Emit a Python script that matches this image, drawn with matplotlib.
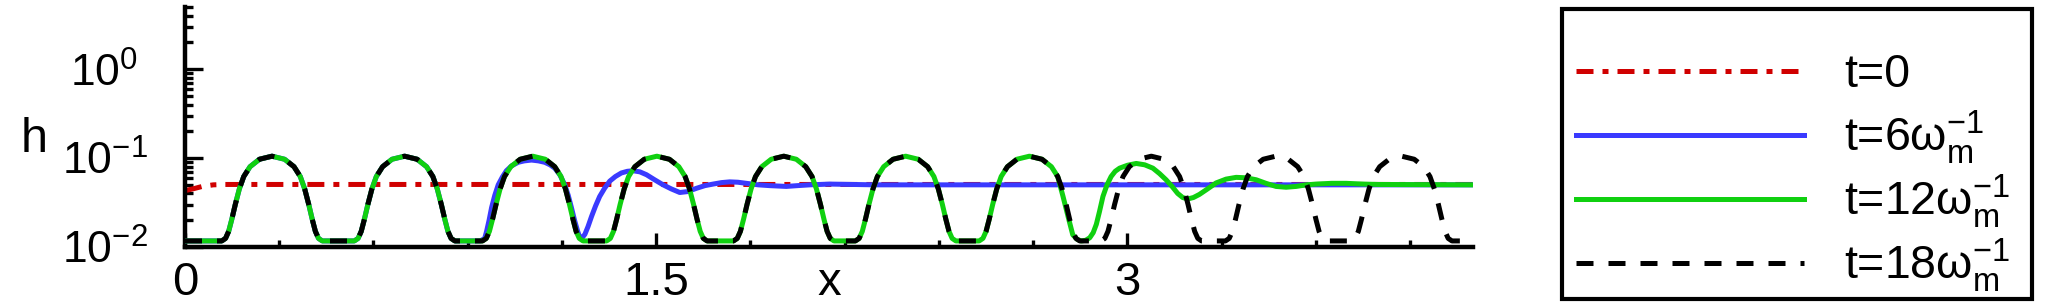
import matplotlib
matplotlib.use("Agg")
import matplotlib.pyplot as plt
from matplotlib.ticker import MultipleLocator, LogLocator, NullFormatter
from matplotlib.patches import Rectangle

plt.rcParams['font.family'] = ['Liberation Sans', 'DejaVu Sans']
plt.rcParams['mathtext.fontset'] = 'custom'
plt.rcParams['mathtext.rm'] = 'Liberation Sans'
plt.rcParams['mathtext.it'] = 'Liberation Sans:italic'
plt.rcParams['mathtext.bf'] = 'Liberation Sans:bold'

# ---- data ----
# t=0 : smooth initial profile
red_x = [0.0, 0.03, 0.055, 0.09, 0.127, 0.16, 0.22, 4.1]
red_h = [0.043, 0.0455, 0.048, 0.050, 0.0505, 0.0505, 0.0505, 0.0505]

# t=18 : periodic bumps over the whole domain
black_x = [0.0,
           0.117, 0.129, 0.139, 0.149, 0.160, 0.173, 0.187, 0.207, 0.237, 0.277, 0.317, 0.347, 0.367, 0.381, 0.394, 0.405, 0.415, 0.425, 0.437,
           0.539, 0.551, 0.561, 0.571, 0.582, 0.595, 0.609, 0.629, 0.659, 0.699, 0.739, 0.769, 0.789, 0.803, 0.816, 0.827, 0.837, 0.847, 0.859,
           0.947, 0.959, 0.969, 0.979, 0.990, 1.003, 1.017, 1.037, 1.067, 1.107, 1.147, 1.177, 1.197, 1.211, 1.224, 1.235, 1.245, 1.255, 1.267,
           1.342, 1.354, 1.364, 1.374, 1.385, 1.398, 1.412, 1.432, 1.462, 1.502, 1.542, 1.572, 1.592, 1.606, 1.619, 1.630, 1.640, 1.650, 1.662,
           1.746, 1.758, 1.768, 1.778, 1.789, 1.802, 1.816, 1.836, 1.866, 1.906, 1.946, 1.976, 1.996, 2.010, 2.023, 2.034, 2.044, 2.054, 2.066,
           2.134, 2.146, 2.156, 2.166, 2.177, 2.190, 2.204, 2.224, 2.254, 2.294, 2.334, 2.364, 2.384, 2.398, 2.411, 2.422, 2.432, 2.442, 2.454,
           2.528, 2.540, 2.550, 2.560, 2.571, 2.584, 2.598, 2.618, 2.648, 2.688, 2.728, 2.758, 2.778, 2.792, 2.805, 2.816, 2.826, 2.836, 2.848,
           2.916, 2.928, 2.938, 2.948, 2.959, 2.972, 2.986, 3.006, 3.036, 3.076, 3.116, 3.146, 3.166, 3.180, 3.193, 3.204, 3.214, 3.224, 3.236,
           3.312, 3.324, 3.334, 3.344, 3.355, 3.368, 3.382, 3.402, 3.432, 3.472, 3.512, 3.542, 3.562, 3.576, 3.589, 3.600, 3.610, 3.620, 3.632,
           3.713, 3.725, 3.735, 3.745, 3.756, 3.769, 3.783, 3.803, 3.833, 3.873, 3.913, 3.943, 3.963, 3.977, 3.990, 4.001, 4.011, 4.021, 4.033,
           4.1]
black_h = [0.0117,
           0.0117, 0.0125, 0.015, 0.0205, 0.03, 0.045, 0.062, 0.08, 0.097, 0.105, 0.097, 0.08, 0.062, 0.045, 0.03, 0.0205, 0.015, 0.0125, 0.0117,
           0.0117, 0.0125, 0.015, 0.0205, 0.03, 0.045, 0.062, 0.08, 0.097, 0.105, 0.097, 0.08, 0.062, 0.045, 0.03, 0.0205, 0.015, 0.0125, 0.0117,
           0.0117, 0.0125, 0.015, 0.0205, 0.03, 0.045, 0.062, 0.08, 0.097, 0.105, 0.097, 0.08, 0.062, 0.045, 0.03, 0.0205, 0.015, 0.0125, 0.0117,
           0.0117, 0.0125, 0.015, 0.0205, 0.03, 0.045, 0.062, 0.08, 0.097, 0.105, 0.097, 0.08, 0.062, 0.045, 0.03, 0.0205, 0.015, 0.0125, 0.0117,
           0.0117, 0.0125, 0.015, 0.0205, 0.03, 0.045, 0.062, 0.08, 0.097, 0.105, 0.097, 0.08, 0.062, 0.045, 0.03, 0.0205, 0.015, 0.0125, 0.0117,
           0.0117, 0.0125, 0.015, 0.0205, 0.03, 0.045, 0.062, 0.08, 0.097, 0.105, 0.097, 0.08, 0.062, 0.045, 0.03, 0.0205, 0.015, 0.0125, 0.0117,
           0.0117, 0.0125, 0.015, 0.0205, 0.03, 0.045, 0.062, 0.08, 0.097, 0.105, 0.097, 0.08, 0.062, 0.045, 0.03, 0.0205, 0.015, 0.0125, 0.0117,
           0.0117, 0.0125, 0.015, 0.0205, 0.03, 0.045, 0.062, 0.08, 0.097, 0.105, 0.097, 0.08, 0.062, 0.045, 0.03, 0.0205, 0.015, 0.0125, 0.0117,
           0.0117, 0.0125, 0.015, 0.0205, 0.03, 0.045, 0.062, 0.08, 0.097, 0.105, 0.097, 0.08, 0.062, 0.045, 0.03, 0.0205, 0.015, 0.0125, 0.0117,
           0.0117, 0.0125, 0.015, 0.0205, 0.03, 0.045, 0.062, 0.08, 0.097, 0.105, 0.097, 0.08, 0.062, 0.045, 0.03, 0.0205, 0.015, 0.0125, 0.0117,
           0.0117]

# t=6 : same as t=18 up to x~0.86, then its own tail
blue_shared = 39
blue_tail_x = [0.940, 0.954, 0.960, 0.968, 0.976, 0.986, 0.997, 1.010, 1.023, 1.040, 1.061, 1.080, 1.103, 1.125, 1.145, 1.162, 1.177,
               1.193, 1.209, 1.220, 1.230, 1.240, 1.250, 1.257, 1.265, 1.273, 1.283, 1.294, 1.307, 1.320, 1.336, 1.352, 1.370, 1.389,
               1.408, 1.427, 1.448, 1.469, 1.495, 1.522, 1.548, 1.575, 1.600, 1.628, 1.655, 1.681, 1.708, 1.734, 1.760, 1.787, 1.825,
               1.861, 1.914, 1.950, 1.989, 2.052, 2.20, 4.1]
blue_tail_h = [0.0117, 0.0125, 0.015, 0.020, 0.0278, 0.038, 0.050, 0.061, 0.072, 0.082, 0.0897, 0.093, 0.095, 0.093, 0.0897, 0.084, 0.077,
               0.065, 0.050, 0.038, 0.0278, 0.020, 0.015, 0.0127, 0.0128, 0.0139, 0.017, 0.022, 0.029, 0.037, 0.046, 0.055, 0.062, 0.068,
               0.071, 0.072, 0.070, 0.065, 0.057, 0.050, 0.045, 0.041, 0.042, 0.0457, 0.049, 0.051, 0.053, 0.054, 0.0535, 0.052, 0.050,
               0.049, 0.048, 0.049, 0.050, 0.051, 0.050, 0.050]

# t=12 : same as t=18 up to x~2.78, then its own tail
green_shared = 128
green_tail_x = [2.795, 2.811, 2.826, 2.840, 2.853, 2.867, 2.880, 2.891, 2.901, 2.911, 2.922, 2.935, 2.948, 2.961, 2.975, 3.000, 3.028,
                3.055, 3.081, 3.102, 3.123, 3.142, 3.160, 3.176, 3.192, 3.210, 3.229, 3.255, 3.282, 3.314, 3.346, 3.378, 3.410,
                3.441, 3.473, 3.505, 3.537, 3.570, 3.60, 3.65, 3.696, 3.75, 3.80, 4.1]
green_tail_h = [0.037, 0.022, 0.0137, 0.0122, 0.0117, 0.0119, 0.0127, 0.0145, 0.018, 0.025, 0.037, 0.050, 0.062, 0.071, 0.077, 0.083, 0.087,
                0.084, 0.077, 0.067, 0.057, 0.048, 0.040, 0.036, 0.0347, 0.036, 0.039, 0.045, 0.0525, 0.058, 0.0607, 0.060, 0.057,
                0.052, 0.048, 0.047, 0.048, 0.050, 0.051, 0.052, 0.052, 0.051, 0.0505, 0.050]

labels = ['t=0', r't=6$\mathrm{\omega}_{\mathrm{m}}^{-1}$', r't=12$\mathrm{\omega}_{\mathrm{m}}^{-1}$',
          r't=18$\mathrm{\omega}_{\mathrm{m}}^{-1}$']

blue_x = black_x[:blue_shared] + blue_tail_x
blue_h = black_h[:blue_shared] + blue_tail_h
green_x = black_x[:green_shared] + green_tail_x
green_h = black_h[:green_shared] + green_tail_h

# ---- figure ----
W, H = 2048, 302
fig = plt.figure(figsize=(W / 100, H / 100), dpi=100)
ax = fig.add_axes([185 / W, 1 - 247 / H, 1288 / W, 240 / H])

lw = 3.6
l0, = ax.plot(red_x, red_h, color='#d00000', lw=lw, linestyle=(0, (3.4, 1.8, 1.2, 1.8)), zorder=2)
l1, = ax.plot(blue_x, blue_h, color='#3a3aff', lw=lw, zorder=3)
l2, = ax.plot(green_x, green_h, color='#10d010', lw=lw, zorder=4)
l3, = ax.plot(black_x, black_h, color='black', lw=lw, linestyle=(0, (3.4, 3.0)), zorder=5)

ax.set_yscale('log')
ax.set_xlim(0, 4.1)
ax.set_ylim(0.01, 5)

ax.spines['top'].set_visible(False)
ax.spines['right'].set_visible(False)
ax.spines['left'].set_linewidth(3.2)
ax.spines['bottom'].set_linewidth(3.2)

ax.set_xticks([0, 1.5, 3])
ax.set_xticklabels(['0', '1.5', '3'])
ax.xaxis.set_minor_locator(MultipleLocator(0.3))
ax.set_yticks([0.01, 0.1, 1])
ax.set_yticklabels([r'$10^{-2}$', r'$10^{-1}$', r'$10^{0}$'])
ax.yaxis.set_minor_locator(LogLocator(base=10, subs=range(2, 10)))
ax.yaxis.set_minor_formatter(NullFormatter())

ax.tick_params(which='both', direction='in', width=2.4, color='black')
ax.tick_params(axis='x', which='major', length=10, pad=10, labelsize=34)
ax.tick_params(axis='x', which='minor', length=5)
ax.tick_params(axis='y', which='major', length=13, pad=58, labelsize=32)
ax.tick_params(axis='y', which='minor', length=6)
for lab in ax.get_yticklabels():
    lab.set_horizontalalignment('center')

ax.set_xlabel('x', fontsize=34, va='top')
ax.xaxis.set_label_coords(0.5, -0.06)
ax.set_ylabel('h', fontsize=35, rotation=0, va='center', ha='center')
ax.yaxis.set_label_coords(-0.117, 0.446)

# legend: one entry per row so the rows sit evenly, with a box drawn around them
row_y = [71, 135, 199, 263]
legs = []
for line, lab, ry in zip([l0, l1, l2, l3], labels, row_y):
    leg = fig.legend([line], [lab], loc='center left', bbox_to_anchor=(1576 / W, 1 - ry / H),
                     frameon=False, fontsize=33.5, borderpad=0, borderaxespad=0, handlelength=4.9,
                     handletextpad=0.86)
    legs.append(leg)
fig.patches.append(Rectangle((1562 / W, 1 - 299 / H), 470 / W, 290 / H, transform=fig.transFigure,
                             fill=False, edgecolor='black', linewidth=3.0))

# shift each legend so its sample line sits exactly on its row
fig.canvas.draw()
for leg, ry in zip(legs, row_y):
    bb = leg.legend_handles[0].get_window_extent()
    yc = 0.5 * (bb.y0 + bb.y1)
    new_y = 2 * (H - ry) - yc
    leg.set_bbox_to_anchor((1576 / W, new_y / H), transform=fig.transFigure)

fig.savefig('out.png', dpi=100)
